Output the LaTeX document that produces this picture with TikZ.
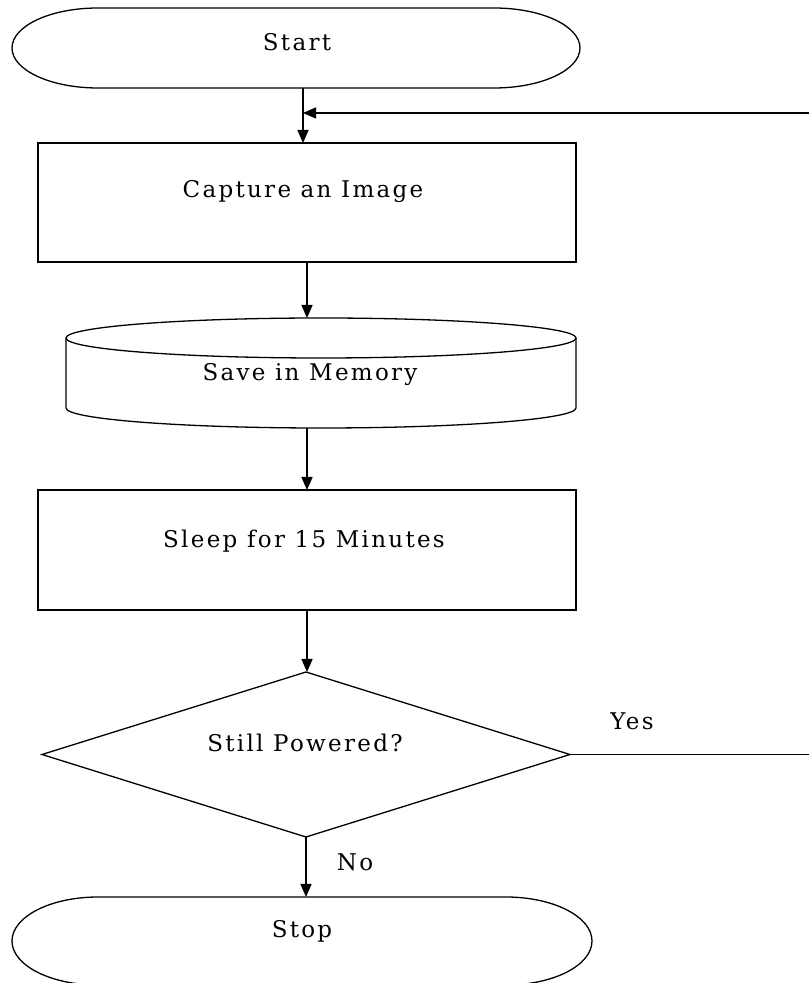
\documentclass[tikz,border=0pt]{standalone}
\usepackage{fontspec}
\setmainfont[LetterSpace=10]{DejaVu Serif}
\usetikzlibrary{arrows.meta,shapes.geometric,calc}

% stadium outline with elliptic ends around a named node
\newcommand\termpath[3]{%
  \draw[shapeline] ([xshift=#2]#1.north west) -- ([xshift=-#2]#1.north east)
    arc[start angle=90,end angle=-90,x radius=#2,y radius=#3]
    -- ([xshift=#2]#1.south west)
    arc[start angle=270,end angle=90,x radius=#2,y radius=#3] -- cycle;}

\begin{document}
\begin{tikzpicture}[x=1pt,y=1pt,
  shapeline/.style={line width=1.3pt,draw=black},
  frame/.style={inner sep=0pt,outer sep=0pt},
  procbox/.style={frame,shapeline,rectangle,minimum width=538pt,minimum height=119pt},
  txt/.style={inner sep=0pt,anchor=base,font=\fontsize{23}{27}\selectfont},
  flow/.style={line width=1.5pt,-{Triangle[length=13pt,width=11pt]}},
  plain/.style={line width=1.5pt}]

\fill[white] (0,0) rectangle (809,983);
\useasboundingbox (0,0) rectangle (809,983);

% frames of the shapes
\node[frame,minimum width=568pt,minimum height=80pt] (start) at (296,935) {};
\node[procbox] (cap) at (307,780.5) {};
\node[frame,minimum width=510pt,minimum height=110pt] (mem) at (321,610) {};
\node[procbox,minimum height=120pt] (sleep) at (307,433) {};
\node[frame,shapeline,diamond,minimum width=528pt,minimum height=165pt] (dec) at (306,228.5) {};
\node[frame,minimum width=580pt,minimum height=88pt] (stop) at (302,42) {};

% terminals
\termpath{start}{86pt}{40pt}
\termpath{stop}{86pt}{44pt}

% storage cylinder
\draw[shapeline] ([yshift=-20pt]mem.north west)
  arc[start angle=180,end angle=-180,x radius=255pt,y radius=20pt];
\draw[shapeline] ([yshift=-20pt]mem.north west) -- ([yshift=20pt]mem.south west)
  arc[start angle=180,end angle=360,x radius=255pt,y radius=20pt]
  -- ([yshift=-20pt]mem.north east);

% texts
\node[txt] (tstart) at (297,932) {Start};
\node[txt] (tcap) at (303,785) {Capture an Image};
\node[txt] (tmem) at (310,602) {Save in Memory};
\node[txt] (tsleep) at (304,435) {Sleep for 15 Minutes};
\node[txt] (tdec) at (305,231) {Still Powered?};
\node[txt] (tyes) at (632,253) {Yes};
\node[txt] (tno) at (355,112) {No};
\node[txt] (tstop) at (302,45) {Stop};

% connectors
\coordinate (retA) at (809,228.5);
\coordinate (retB) at (809,870);
\draw[flow] (303,0 |- start.south) -- (303,0 |- cap.north);
\draw[flow] (cap.south) -- (cap.south |- mem.north);
\draw[flow] (cap.south |- mem.south) -- (sleep.north);
\draw[flow] (sleep.south) -- (sleep.south |- dec.north);
\draw[plain] (dec.east) -- (retA);
\draw[flow] (retB) -- (303,870);
\draw[flow] (dec.south) -- (dec.south |- stop.north);
\end{tikzpicture}
\end{document}
